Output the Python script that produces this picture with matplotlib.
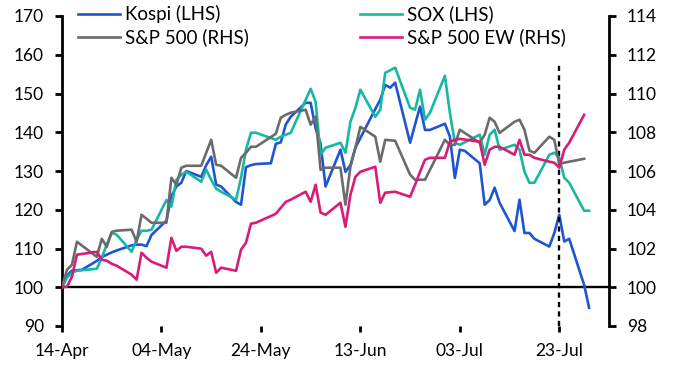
import matplotlib
matplotlib.use('Agg')
import matplotlib.pyplot as plt
import matplotlib.dates as mdates
import pandas as pd

plt.rcParams['font.family'] = ['Lato', 'DejaVu Sans']

# trading days
us_holidays = ['2025-04-18', '2025-05-26', '2025-06-19', '2025-07-04']
us_dates = pd.bdate_range('2025-04-14', '2025-07-28').drop(pd.to_datetime(us_holidays))
sox_dates = us_dates.append(pd.DatetimeIndex(['2025-07-29']))
kr_dates = pd.bdate_range('2025-04-14', '2025-07-29')

kospi = [100, 103, 104.3, 104.4, 104.5, 106.8, 107.8, 108.4, 109, 109.5,
         110.8, 111, 111, 110.6, 113.5, 117.2, 123.5, 126, 127, 130,
         128.5, 131.5, 133.7, 126.5, 126, 122, 121.3, 131, 131.5, 131.8,
         132, 137, 137.4, 142, 144, 147.6, 147.6, 141, 137, 126,
         135.5, 129.8, 131.5, 136, 138.5, 146, 148.4, 152.2, 151.5, 152.8,
         137.3, 142, 146.6, 140.6, 140.6, 142.2, 138.9, 128.2, 135.5, 135.2,
         132, 121.3, 122.5, 125.7, 121.8, 114.5, 122.6, 114, 114, 112.5,
         110.5, 114, 118.7, 111.8, 112.5, 100.6, 94.7]

sox = [100, 102.45, 103.74, 104.26, 104.77, 107.61, 110.97, 114.06, 113.55,
       109.16, 112.26, 114.58, 114.58, 114.84, 122.5, 120.8, 127.7, 129.03, 129.81,
       127.23, 130.32, 127.74, 125.42, 124.65, 122.58, 128.26, 135.48, 139.87, 139.87,
       138.06, 138.84, 139.35, 139.87, 148.39, 151.23, 147.87, 134.19, 136.0,
       137.29, 134.71, 142.71, 146.32, 150.97, 144.0, 145.81, 155.35, 156.65,
       146.32, 145.81, 150.97, 143.23, 145.03, 154.58, 145.03, 137.29, 136.77,
       139.35, 134.19, 139.35, 140.65, 135.48, 136.77, 135.48, 129.81, 126.97, 126.97,
       134.19, 134.71, 133.42, 128.26, 126.97, 119.74, 119.74]

spx = [100.00, 100.90, 101.16, 102.35, 101.57, 102.50, 102.09, 102.86, 102.92,
       102.97, 102.35, 103.74, 103.54, 103.33, 103.33, 105.65, 105.29, 106.17, 106.27,
       106.27, 106.94, 107.61, 106.32, 106.27, 105.65, 106.68, 106.94, 107.25, 107.25,
       107.92, 108.75, 108.90, 109.01, 109.16, 108.39, 108.80, 106.06, 106.17,
       106.17, 104.26, 106.22, 107.20, 108.28, 107.77, 106.48, 107.61, 107.56,
       105.81, 105.55, 105.55, 105.55, 106.06, 107.61, 107.35, 107.35, 108.13,
       107.46, 107.87, 108.75, 108.54, 107.97, 108.54, 108.65, 108.13, 107.05, 106.94,
       107.77, 107.61, 106.37, 106.43, 106.48, 106.63]

spx_ew = [100.00, 100.03, 100.54, 101.68, 101.83, 101.42, 101.37, 101.21, 101.11,
          100.65, 100.39, 101.78, 101.52, 101.32, 101.01, 102.55, 101.88, 102.09, 102.09,
          101.99, 101.63, 101.83, 100.75, 101.01, 100.85, 101.94, 102.30, 103.28, 103.33,
          103.79, 104.10, 104.41, 104.52, 104.93, 104.41, 105.29, 103.85, 103.74,
          104.36, 103.12, 104.77, 105.70, 105.96, 106.22, 104.36, 104.88, 104.93,
          104.67, 105.29, 105.96, 106.58, 106.68, 106.68, 107.51, 107.61, 107.66,
          107.51, 106.32, 107.10, 107.25, 107.25, 106.84, 107.61, 106.84, 106.84, 106.68,
          106.48, 106.43, 106.17, 107.10, 107.46, 108.90]

xticks = pd.to_datetime(['2025-04-14', '2025-05-04', '2025-05-24',
                         '2025-06-13', '2025-07-03', '2025-07-23'])
marker_date = pd.Timestamp('2025-07-23')

fig = plt.figure(figsize=(6.75, 3.78), dpi=100)
ax = fig.add_axes([62 / 675, 1 - 326 / 378, (609 - 62) / 675, 310 / 378])
ax2 = ax.twinx()

l1, = ax.plot(kr_dates, kospi, color='#1F55D2', lw=1.9, label='Kospi (LHS)')
l2, = ax.plot(sox_dates, sox, color='#17B8A3', lw=1.9, label='SOX (LHS)')
l3, = ax2.plot(us_dates, spx, color='#6B6B6B', lw=1.9, label='S&P 500 (RHS)')
l4, = ax2.plot(us_dates, spx_ew, color='#D81C77', lw=1.9, label='S&P 500 EW (RHS)')

ax.axhline(100, color='black', lw=1.7, zorder=1)
ax.vlines(marker_date, 90, 157.5, color='black', lw=1.7,
          linestyles=(0, (2.2, 1.8)))

ax.set_xlim(pd.Timestamp('2025-04-14'), pd.Timestamp('2025-08-02'))
ax.set_ylim(90, 170)
ax2.set_ylim(98, 114)
ax.set_yticks(range(90, 171, 10))
ax2.set_yticks(range(98, 115, 2))
ax.set_xticks(xticks)
ax.xaxis.set_major_formatter(mdates.DateFormatter('%d-%b'))

for a in (ax, ax2):
    for s in ('top', 'bottom'):
        a.spines[s].set_visible(False)
    a.spines['left'].set_linewidth(2)
    a.spines['right'].set_linewidth(2)
    a.tick_params(labelsize=12.5, width=2, length=5, pad=8, colors='black')
ax.spines['right'].set_visible(False)
ax2.spines['left'].set_visible(False)
ax.tick_params(axis='x', length=4)

fig.legend(handles=[l1, l3, l2, l4], ncol=2, loc='upper left',
           bbox_to_anchor=(78 / 675, 1 - 5 / 378), frameon=False,
           fontsize=13.5, handlelength=2.25, handletextpad=0.27,
           columnspacing=5.9, labelspacing=0.3, borderpad=0, borderaxespad=0)

fig.savefig('out.png', dpi=100)
